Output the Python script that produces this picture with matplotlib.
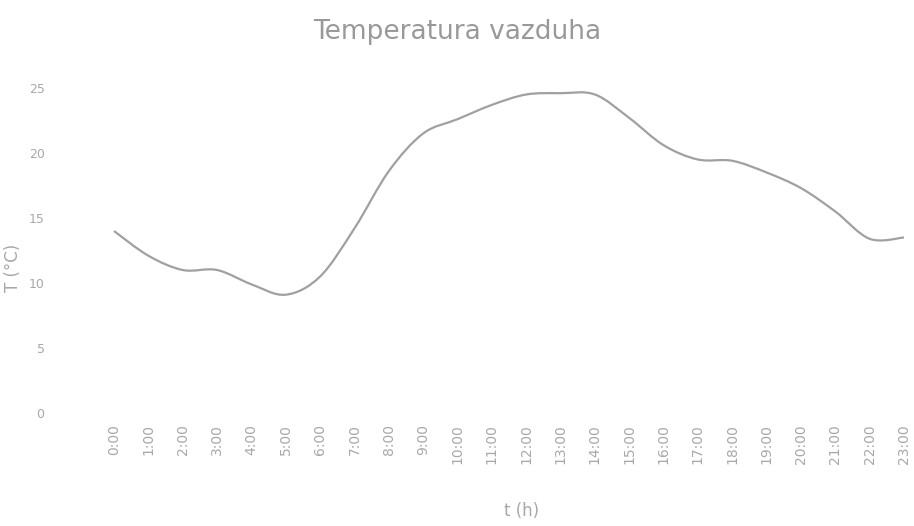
import matplotlib
matplotlib.use("Agg")
import matplotlib.pyplot as plt
from matplotlib.path import Path
from matplotlib.patches import PathPatch
import numpy as np

# sati u danu i izmjerene temperature
hours = [f"{h}:00" for h in range(24)]
temps = [14.0, 12.1, 11.0, 11.0, 9.9, 9.1, 10.5, 14.2, 18.6, 21.5, 22.6, 23.7,
         24.5, 24.6, 24.5, 22.7, 20.6, 19.5, 19.4, 18.5, 17.3, 15.5, 13.4, 13.5]
yticks = [0, 5, 10, 15, 20, 25]

txt = "#a8a8a8"
line_c = "#a0a0a0"

fig = plt.figure(figsize=(9.14, 5.26), dpi=100)
ax = fig.add_axes([114 / 914, 1 - 413 / 526, 790 / 914, 325 / 526])

x = np.arange(len(temps))
y = np.array(temps)

# glatka linija (bezier izmedju tocaka)
k = 1 / 6
verts = [(x[0], y[0])]
codes = [Path.MOVETO]
n = len(x)
for i in range(n - 1):
    p0 = np.array([x[max(i - 1, 0)], y[max(i - 1, 0)]])
    p1 = np.array([x[i], y[i]])
    p2 = np.array([x[i + 1], y[i + 1]])
    p3 = np.array([x[min(i + 2, n - 1)], y[min(i + 2, n - 1)]])
    c1 = p1 + (p2 - p0) * k
    c2 = p2 - (p3 - p1) * k
    verts += [tuple(c1), tuple(c2), tuple(p2)]
    codes += [Path.CURVE4] * 3
ax.add_patch(PathPatch(Path(verts, codes), fill=False, edgecolor=line_c,
                       lw=1.6, clip_on=False))

ax.set_xlim(0, 23)
ax.set_ylim(0, 25)
ax.set_xticks(x)
ax.set_xticklabels(hours, rotation=90, fontsize=10, color=txt)
ax.set_yticks(yticks)
ax.set_yticklabels([str(v) for v in yticks], fontsize=9, color=txt)
ax.tick_params(axis="x", length=0, pad=8)
ax.tick_params(axis="y", length=0, pad=50)
for s in ax.spines.values():
    s.set_visible(False)

ax.set_xlabel("t (h)", fontsize=12, color=txt)
ax.xaxis.set_label_coords(0.516, -0.275)
ax.set_ylabel("T (°C)", fontsize=12, color=txt)
ax.yaxis.set_label_coords(-0.1165, 0.446)
fig.text(0.5, 0.94, "Temperatura vazduha", ha="center", va="center",
         fontsize=19, color="#999999")

fig.savefig("out.png", dpi=100)
